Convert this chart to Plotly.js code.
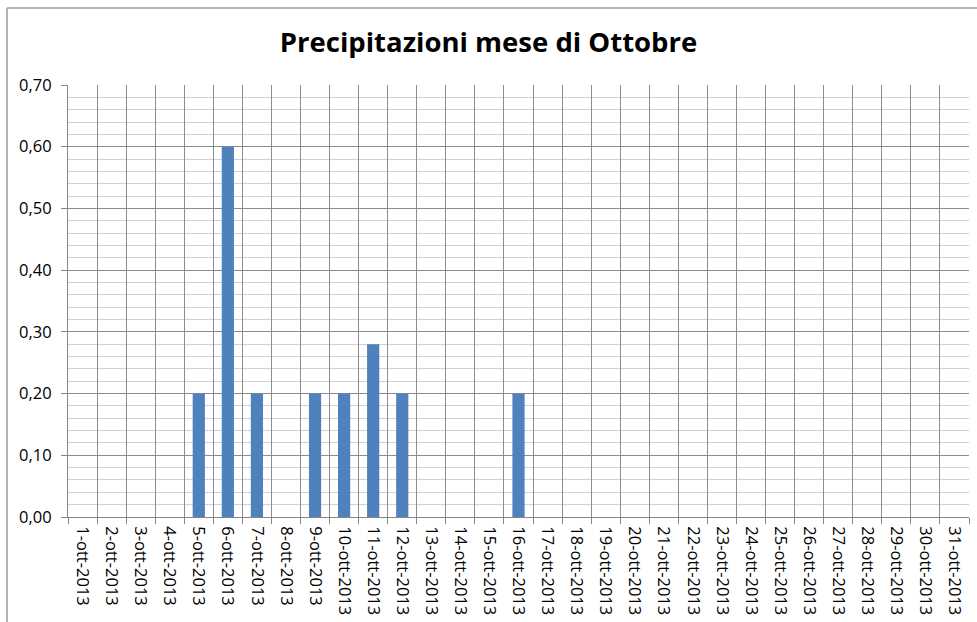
<!DOCTYPE html>
<html>
<head>
<meta charset="utf-8">
<script src="https://cdn.plot.ly/plotly-3.0.1.min.js"></script>
<style>
html,body{margin:0;padding:0;background:#fff;}
#chart{width:977px;height:622px;}
</style>
</head>
<body>
<div id="chart"></div>
<script>
const days = ["1-ott-2013","2-ott-2013","3-ott-2013","4-ott-2013","5-ott-2013","6-ott-2013","7-ott-2013","8-ott-2013","9-ott-2013","10-ott-2013","11-ott-2013","12-ott-2013","13-ott-2013","14-ott-2013","15-ott-2013","16-ott-2013","17-ott-2013","18-ott-2013","19-ott-2013","20-ott-2013","21-ott-2013","22-ott-2013","23-ott-2013","24-ott-2013","25-ott-2013","26-ott-2013","27-ott-2013","28-ott-2013","29-ott-2013","30-ott-2013","31-ott-2013"];
const precip = [0,0,0,0,0.20,0.60,0.20,0,0.20,0.20,0.28,0.20,0,0,0,0.20,0,0,0,0,0,0,0,0,0,0,0,0,0,0,0];
const chartTitle = "Precipitazioni mese di Ottobre";

const W = 977, H = 622;
const m = {l:68, r:8, t:85, b:105};
const pw = W - m.l - m.r, ph = H - m.t - m.b;
const px = x => (x - m.l) / pw;
const py = y => 1 - (y - m.t) / ph;

const trace = {
  type: 'bar',
  x: days,
  y: precip,
  marker: {color: '#4f81bd', line: {width: 0}},
  hoverinfo: 'x+y'
};

const layout = {
  width: W, height: H,
  margin: m,
  paper_bgcolor: '#ffffff',
  plot_bgcolor: '#ffffff',
  separators: ',.',
  bargap: 0.58,
  showlegend: false,
  font: {family: 'Open Sans, sans-serif', color: '#000'},
  title: {
    text: '<b>' + chartTitle + '</b>',
    font: {family: 'Open Sans, sans-serif', size: 27.5, color: '#000'},
    x: 0.5, xanchor: 'center',
    y: py(46), yref: 'paper', yanchor: 'middle'
  },
  xaxis: {
    type: 'category',
    tickson: 'boundaries',
    ticks: 'outside', ticklen: 6, tickcolor: '#868686', tickwidth: 1,
    showgrid: true, gridcolor: '#8c8c8c', gridwidth: 1,
    showline: true, linecolor: '#868686', linewidth: 1,
    tickangle: 90,
    ticklabelstandoff: 5,
    tickfont: {family: 'Open Sans, sans-serif', size: 16.5, color: '#000'},
    range: [-0.5, 30.5],
    fixedrange: true
  },
  yaxis: {
    range: [0, 0.70],
    dtick: 0.10,
    tickformat: '.2f',
    ticks: 'outside', ticklen: 6, tickcolor: '#868686',
    showgrid: true, gridcolor: '#8c8c8c', gridwidth: 1,
    showline: true, linecolor: '#868686', linewidth: 1,
    zeroline: false,
    ticklabelstandoff: 6,
    minor: {dtick: 0.02, showgrid: true, gridcolor: '#d0d0d0', gridwidth: 1},
    tickfont: {family: 'Open Sans, sans-serif', size: 16.5, color: '#000'},
    fixedrange: true
  },
  shapes: [
    {type: 'line', xref: 'paper', yref: 'paper', x0: px(7), x1: px(7), y0: py(8), y1: py(640),
     line: {color: '#9a9a9a', width: 1.5}},
    {type: 'line', xref: 'paper', yref: 'paper', x0: px(7), x1: px(990), y0: py(8), y1: py(8),
     line: {color: '#9a9a9a', width: 1.5}}
  ]
};

Plotly.newPlot('chart', [trace], layout, {displayModeBar: false, staticPlot: true});
</script>
</body>
</html>
